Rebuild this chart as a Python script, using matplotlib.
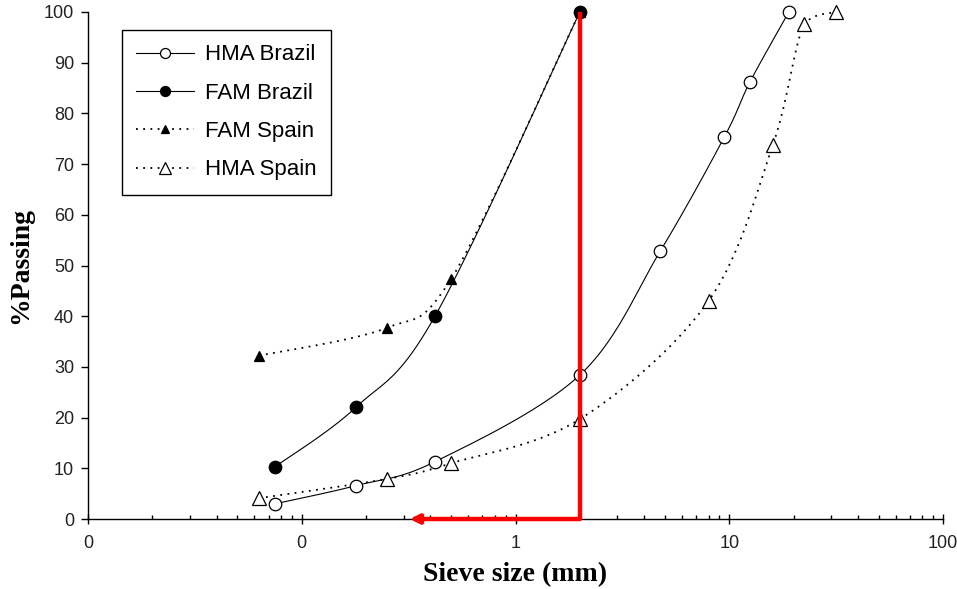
import numpy as np
import matplotlib
matplotlib.use("Agg")
import matplotlib.pyplot as plt
from matplotlib.lines import Line2D
from matplotlib.ticker import FuncFormatter, LogLocator, NullFormatter

# ---- data ----
sieve_hma_br = [0.075, 0.18, 0.42, 2.0, 4.75, 9.5, 12.5, 19.0]
pass_hma_br = [3.0, 6.6, 11.3, 28.4, 52.8, 75.4, 86.2, 100.0]
sieve_fam_br = [0.075, 0.18, 0.42, 2.0]
pass_fam_br = [10.3, 22.1, 40.0, 100.0]
sieve_fam_sp = [0.063, 0.25, 0.5, 2.0]
pass_fam_sp = [32.2, 37.7, 47.3, 100.0]
sieve_hma_sp = [0.063, 0.25, 0.5, 2.0, 8.0, 16.0, 22.4, 31.5]
pass_hma_sp = [4.1, 7.9, 11.0, 19.7, 43.0, 73.8, 97.6, 100.0]

series_labels = ["HMA Brazil", "FAM Brazil", "FAM Spain", "HMA Spain"]
arrow_sieve = 2.0
arrow_target = 0.32
y_ticks = list(range(0, 101, 10))
x_ticks = [0.01, 0.1, 1, 10, 100]


def smooth(xs, ys, n=30):
    """Smoothed line (Catmull-Rom Bezier) in log-x space, without overshoot."""
    lx = np.log10(np.asarray(xs, float))
    y = np.asarray(ys, float)
    P = np.column_stack([lx, y])
    P = np.vstack([P[0], P, P[-1]])
    out = []
    for i in range(1, len(P) - 2):
        p0, p1, p2, p3 = P[i - 1], P[i], P[i + 1], P[i + 2]
        c1 = p1 + (p2 - p0) / 6.0
        c2 = p2 - (p3 - p1) / 6.0
        lo, hi = min(p1[1], p2[1]), max(p1[1], p2[1])
        c1[1] = np.clip(c1[1], lo, hi)
        c2[1] = np.clip(c2[1], lo, hi)
        t = np.linspace(0, 1, n)[:, None]
        seg = ((1 - t) ** 3) * p1 + 3 * ((1 - t) ** 2) * t * c1 + 3 * (1 - t) * t ** 2 * c2 + t ** 3 * p2
        out.append(seg if i == 1 else seg[1:])
    out = np.vstack(out)
    return 10 ** out[:, 0], out[:, 1]


fig = plt.figure(figsize=(9.57, 5.89), dpi=100)
ax = fig.add_axes([88 / 957, 70 / 589, 855 / 957, 507 / 589])

sans = ["Liberation Sans", "DejaVu Sans"]
serif = ["Liberation Serif", "DejaVu Serif"]

solid = dict(color="black", lw=0.8, linestyle="-")
dotted = dict(color="black", lw=1.3, linestyle=(0, (1, 3)))

styles = [
    (sieve_hma_br, pass_hma_br, solid, dict(marker="o", ms=9, mfc="white", mec="black", mew=0.9)),
    (sieve_fam_br, pass_fam_br, solid, dict(marker="o", ms=9, mfc="black", mec="black", mew=0.9)),
    (sieve_fam_sp, pass_fam_sp, dotted, dict(marker="^", ms=7, mfc="black", mec="black", mew=0.9)),
    (sieve_hma_sp, pass_hma_sp, dotted, dict(marker="^", ms=10.5, mfc="white", mec="black", mew=0.9)),
]

handles = []
for (xs, ys, ls, mk), lab in zip(styles, series_labels):
    cx, cy = smooth(xs, ys)
    ax.plot(cx, cy, zorder=2, clip_on=False, **ls)
    ax.plot(xs, ys, linestyle="none", zorder=3, clip_on=False, **mk)
    hmk = dict(mk)
    hmk["ms"] = mk["ms"] * 0.8
    handles.append(Line2D([], [], label=lab, **ls, **hmk))

# red arrow
ax.plot([arrow_sieve, arrow_sieve], [0, 100], color="red", lw=3.2, zorder=5,
        clip_on=False, solid_capstyle="butt")
ax.annotate("", xy=(arrow_target, 0), xytext=(arrow_sieve, 0),
            arrowprops=dict(arrowstyle="-|>", color="red", lw=3.2,
                            mutation_scale=13, shrinkA=0, shrinkB=0),
            zorder=5, annotation_clip=False)

ax.set_xscale("log")
ax.set_xlim(0.01, 100)
ax.set_ylim(0, 100)
ax.set_xticks(x_ticks)
ax.xaxis.set_major_formatter(FuncFormatter(lambda v, p: f"{v:.0f}"))
ax.xaxis.set_minor_locator(LogLocator(base=10, subs=np.arange(2, 10)))
ax.xaxis.set_minor_formatter(NullFormatter())
ax.set_yticks(y_ticks)

for s in ["top", "right"]:
    ax.spines[s].set_visible(False)
for s in ["left", "bottom"]:
    ax.spines[s].set_linewidth(1.0)

ax.tick_params(axis="x", which="major", direction="inout", length=7, width=1, pad=8)
ax.tick_params(axis="x", which="minor", direction="in", length=3, width=1)
ax.tick_params(axis="y", which="major", direction="out", length=5, width=1, pad=5)
for lbl in ax.get_xticklabels() + ax.get_yticklabels():
    lbl.set_fontfamily(sans)
    lbl.set_fontsize(13)
    lbl.set_color("#222222")

ax.set_xlabel("Sieve size (mm)", fontfamily=serif, fontweight="bold", fontsize=20, labelpad=7)
ax.set_ylabel("%Passing", fontfamily=serif, fontweight="bold", fontsize=20, labelpad=8)

leg = ax.legend(handles=handles, loc="upper left", bbox_to_anchor=(34 / 855, 489 / 507),
                borderaxespad=0, fancybox=False, framealpha=1, edgecolor="black",
                prop=dict(family=sans, size=16), handlelength=2.6, handletextpad=0.5,
                labelspacing=0.78, borderpad=0.65)
leg.get_frame().set_linewidth(1.0)

fig.savefig("out.png", dpi=100)
